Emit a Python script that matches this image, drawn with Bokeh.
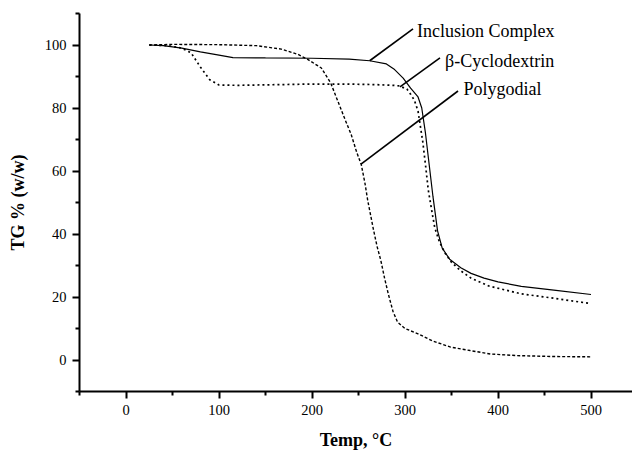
from bokeh.plotting import figure
from bokeh.models import FixedTicker, Range1d
from bokeh.core.properties import value
from bokeh.embed import file_html
from bokeh.resources import INLINE

# ---- data ----
ic_temp = [25, 40, 60, 80, 100, 115, 150, 200, 240, 262, 280, 288, 298, 306, 314, 318,
           322, 326, 330, 335, 340, 348, 360, 371, 385, 400, 425, 460, 500]
ic_tg = [100, 99.8, 99, 97.8, 96.8, 96.0, 95.9, 95.8, 95.5, 95.0, 94, 92.4, 89.5, 86.3, 83.5, 80,
         72, 62, 52, 41, 35.5, 32, 29.3, 27.5, 26.0, 24.8, 23.4, 22.2, 20.8]

cd_temp = [25, 45, 60, 70, 80, 90, 100, 120, 160, 200, 240, 270, 287, 294, 302, 306, 310,
           314, 319, 322, 325, 329, 332, 337, 343, 350, 360, 371, 390, 425, 460, 500]
cd_tg = [100, 99.8, 99, 97.5, 93, 89, 87.3, 87.2, 87.4, 87.6, 87.6, 87.4, 87.2, 87.0, 86, 84.4, 82.5,
         79, 69.5, 62, 54, 47, 42, 37.5, 34, 31, 28.3, 26, 23.5, 21, 19.6, 17.9]

pg_temp = [25, 50, 100, 140, 167, 185, 195, 210, 220, 228, 236, 242, 248, 253, 257, 260, 263,
           266, 270, 274, 278, 282, 287, 292, 300, 314, 330, 349, 370, 392, 420, 460, 500]
pg_tg = [100, 100.2, 100.1, 99.8, 98.7, 97, 95.5, 92.7, 88, 82, 76, 71.7, 66, 62, 56, 50.5, 46,
         41.5, 36, 31.6, 26, 21, 15.5, 12, 10, 8.3, 6, 4.1, 3, 1.9, 1.4, 1.1, 1.0]

# annotations: label text, leader line start (on curve) and end, text anchor
labels = ["Inclusion Complex", "\u03b2-Cyclodextrin", "Polygodial"]
lead_x0 = [262, 294.6, 252.7]
lead_y0 = [95.0, 86.7, 62.2]
lead_x1 = [308.6, 337.6, 357.0]
lead_y1 = [105.1, 95.9, 85.4]
label_x = [313, 343, 363]
label_y = [104.6, 95.0, 86.0]

x_major = [0, 100, 200, 300, 400, 500]
x_minor = [-50, 50, 150, 250, 350, 450, 550]
y_major = [0, 20, 40, 60, 80, 100]
y_minor = [-10, 10, 30, 50, 70, 90, 110]

FONT = "Liberation Serif"

p = figure(width=632, height=452, output_backend="svg", toolbar_location=None,
           x_range=Range1d(-50, 544.6), y_range=Range1d(-10, 110),
           min_border_left=79, min_border_right=0, min_border_top=13, min_border_bottom=53)
p.outline_line_color = None
p.xgrid.visible = False
p.ygrid.visible = False
p.background_fill_color = "white"

p.line(ic_temp, ic_tg, line_color="black", line_width=1.2)
p.line(cd_temp, cd_tg, line_color="black", line_width=1.7, line_dash="2 3")
p.line(pg_temp, pg_tg, line_color="black", line_width=1.4, line_dash="3 2")

p.segment(x0=lead_x0, y0=lead_y0, x1=lead_x1, y1=lead_y1, line_color="black", line_width=1.6)
p.text(x=label_x, y=label_y, text=labels, text_font=value(FONT), text_font_size="18px",
       text_align="left", text_baseline="middle", text_color="black")

for ax, major, minor in ((p.xaxis[0], x_major, x_minor), (p.yaxis[0], y_major, y_minor)):
    ax.ticker = FixedTicker(ticks=major, minor_ticks=minor)
    ax.axis_line_width = 2
    ax.axis_line_color = "black"
    ax.major_tick_line_width = 2
    ax.minor_tick_line_width = 2
    ax.major_tick_in = 0
    ax.major_tick_out = 7
    ax.minor_tick_in = 0
    ax.minor_tick_out = 4
    ax.major_label_text_font = FONT
    ax.major_label_text_font_size = "14.5px"
    ax.major_label_text_color = "black"
    ax.axis_label_text_font = FONT
    ax.axis_label_text_font_size = "18px"
    ax.axis_label_text_font_style = "bold"
    ax.axis_label_text_color = "black"
    ax.major_label_standoff = 6

p.xaxis.axis_label = "Temp, \u00b0C"
p.yaxis.axis_label = "TG % (w/w)"
p.xaxis.axis_label_standoff = 12
p.yaxis.axis_label_standoff = 14

open("out.html", "w").write(file_html(p, INLINE))
